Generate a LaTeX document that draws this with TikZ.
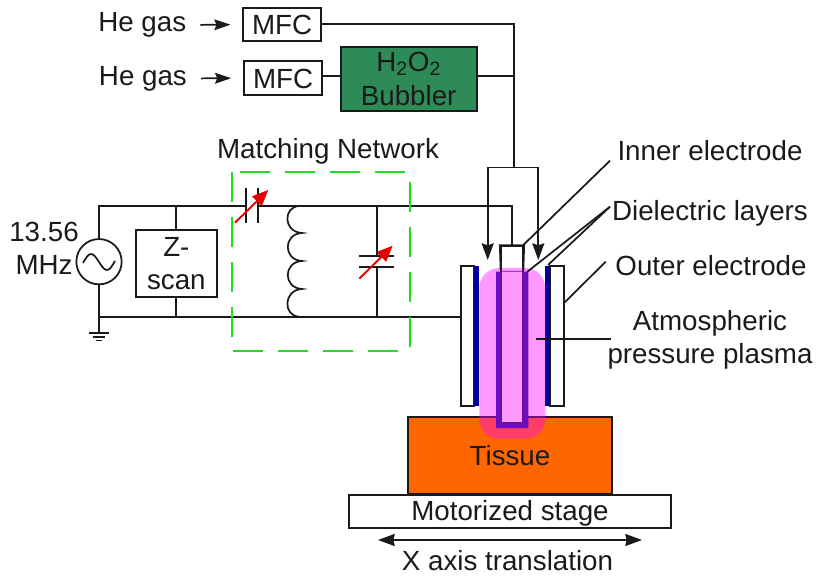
\documentclass[tikz,border=0pt]{standalone}
\usepackage{fontspec}
\setmainfont{Liberation Sans}
\usetikzlibrary{positioning,arrows.meta,fit}
\definecolor{cGreen}{HTML}{2e8b57}
\definecolor{cNet}  {HTML}{22dd22}
\definecolor{cTis}  {HTML}{ff6600}
\definecolor{cBlue} {HTML}{00009c}
\definecolor{cDiel} {HTML}{6a0dc0}
\definecolor{cPlas} {HTML}{ff00ff}
\definecolor{cWire} {HTML}{1a1a1a}
\tikzset{
  lbl/.style ={inner sep=0pt,align=center,text=cWire},
  sbox/.style={draw=cWire,line width=1.3pt,fill=white,inner sep=0pt},
  sbub/.style={sbox,fill=cGreen},
  stis/.style={sbox,fill=cTis},
  slay/.style={fill=cBlue,inner sep=0pt},
  wire/.style={cWire,line width=1.3pt},
  gasar/.style={wire,-{Stealth[length=12.5pt,width=9pt,inset=1.5pt]}},
  hear/.style ={wire,-{Stealth[length=12pt,width=8pt,inset=1.5pt]},shorten <=10.5pt,shorten >=9pt},
  xar/.style  ={wire,{Stealth[length=12.5pt,width=9pt,inset=1pt]}-{Stealth[length=12.5pt,width=9pt,inset=1pt]}},
  redar/.style={red!90!black,line width=1.4pt,-{Stealth[length=12pt,width=10pt,inset=0pt]}},
  plate/.style={cWire,line width=1.4pt},
  mnet/.style ={cNet,line width=1.4pt,dash pattern=on 22.5pt off 11.25pt,dash phase=27.75pt},
}

\begin{document}
\begin{tikzpicture}[x=0.75pt,y=-0.75pt,font=\fontsize{20.8}{25}\selectfont]
  \useasboundingbox (0,0) rectangle (818,577);

  % gas line
  \node[sbox,fit={(243.3,7.7)(321,41)},label={[lbl,yshift=-.7pt]center:MFC}] (mfcA) {};
  \node[sbox,fit={(244,61)(322.3,94.7)},label={[lbl,yshift=-.7pt]center:MFC}] (mfcB) {};
  \node[sbub,fit={(340.7,46.7)(476.7,111)},
        label={[lbl]center:{H\textsubscript{2}O\textsubscript{2}\\Bubbler}}] (bub) {};
  \node[lbl,left=42pt of mfcA,yshift=-.7pt] (heA) {He gas};
  \node[lbl,left=42pt of mfcB,yshift=-.7pt] (heB) {He gas};
  \coordinate (gasbr) at (514.3,167.5);
  \coordinate (lnB) at (322.3,76.3);
  \coordinate (tipL) at (487.7,260);
  \coordinate (tipR) at (538.3,260);
  \draw[hear] (heA) -- (mfcA);
  \draw[hear] (heB) -- (mfcB);
  \draw[wire] (lnB) -- (lnB -| bub.west);
  \draw[wire] (mfcA.east) -| (gasbr);
  \draw[wire] (lnB -| bub.east) -- (lnB -| gasbr);
  \draw[gasar] (gasbr) -| (tipL);
  \draw[gasar] (gasbr) -| (tipR);

  % reactor, drawn back to front
  \node[stis,fit={(408,417)(612,494)}] (tissue) {};
  \node[sbox,fit={(349,495)(671,528)},label={[lbl,yshift=-1.5pt]center:Motorized stage}] (stage) {};
  \node[sbox,fit={(500.7,246)(523.3,423)}] (inner) {};
  \fill[cPlas,opacity=.4,rounded corners=15pt] (479.3,268) rectangle (545.3,439);
  \node[lbl] (tislbl) at (510,456) {Tissue};
  \fill[cDiel,even odd rule] (496,271.7) rectangle (528.3,428) (501.7,271) rectangle (522.6,423);
  \draw[wire] (500.7,271.7) -- (inner.north west) -- (inner.north east) -- (523.3,271.7);
  \node[sbox,fit={(461,265.7)(474,406)}] (outL) {};
  \node[sbox,fit={(550,265.7)(563.7,406)}] (outR) {};
  \node[slay,fit={(474,265.7)(479.3,406)}] (layL) {};
  \node[slay,fit={(545.3,265.7)(550,406)}] (layR) {};

  % rf circuit
  \node[sbox,circle,minimum size=34pt] (src) at (99,261.7) {};
  \draw[wire] (83,263) sin (91,254) cos (99,262) sin (107,270) cos (115,261);
  \node[lbl] (srclbl) at (44,248) {13.56\\MHz};
  \node[sbox,fit={(136,230)(216.7,297.3)},label={[lbl]center:{Z-\\scan}}] (zs) {};
  \coordinate (topL) at (246,206);
  \coordinate (topR) at (257.7,206);
  \coordinate (indT) at (299,206);
  \coordinate (indB) at (299,316.7);
  \coordinate (capT) at (376.7,255.7);
  \coordinate (capB) at (376.7,267);
  \coordinate (gnd) at (99,333);
  \draw[wire] (src.north) |- (topL);
  \draw[wire] (topR) -| (inner.north);
  \draw[wire] (src.south) -- (gnd);
  \draw[wire] (src.south |- indB) -- (indB -| outL.west);
  \draw[wire] (zs.north) -- (zs.north |- topL);
  \draw[wire] (zs.south) -- (zs.south |- indB);
  \draw[wire] (capT) -- (capT |- topR);
  \draw[wire] (capB) -- (capB |- indB);
  \draw[wire] (89,333) -- (108.7,333) (92.7,337) -- (105.3,337) (95.7,340.5) -- (102.3,340.5);
  % coil
  \draw[wire] (indT) .. controls (283,207) and (283,232) .. (302,233)
                     .. controls (283,234) and (283,260) .. (302,261)
                     .. controls (283,262) and (283,288) .. (302,289)
                     .. controls (283,290) and (283,316) .. (indB);
  % tunable capacitors
  \draw[plate] (246,188) -- (246,222.7) (257.7,188) -- (257.7,222.7);
  \draw[plate] (359.3,255.7) -- (394,255.7) (359.3,267) -- (394,267);
  \draw[redar] (235,222.7) -- (268.3,190);
  \draw[redar] (359.3,278.7) -- (392.7,245.7);
  % matching box
  \draw[mnet] (232,172.3) -| (410,350.7) -| cycle;
  \node[lbl] (mnlbl) at (328,151.5) {Matching Network};

  % callouts
  \node[lbl] (lbI) at (710,151) {Inner electrode};
  \node[lbl] (lbD) at (710,213.5) {Dielectric layers};
  \node[lbl] (lbO) at (711,266) {Outer electrode};
  \node[lbl] (lbP) at (710,340) {Atmospheric\\pressure plasma};
  \coordinate (ldI) at (610,160.7);
  \coordinate (ldD) at (610,206.7);
  \coordinate (ldO) at (605.7,261.7);
  \coordinate (ldOe) at (564,303);
  \coordinate (ldP) at (610.7,339.3);
  \draw[wire] (ldI) -- (523.3,245);
  \draw[wire] (ldD) -- (527,272);
  \draw[wire] (ldD) -- (548,265);
  \draw[wire] (ldO) -- (ldOe);
  \draw[wire] (ldP) -- (536,339.3);

  % stage travel
  \coordinate (xL) at (378,540);
  \coordinate (xR) at (642,540);
  \draw[xar] (xL) -- (xR);
  \node[lbl] (xlbl) at (507.5,561) {X axis translation};
\end{tikzpicture}
\end{document}
